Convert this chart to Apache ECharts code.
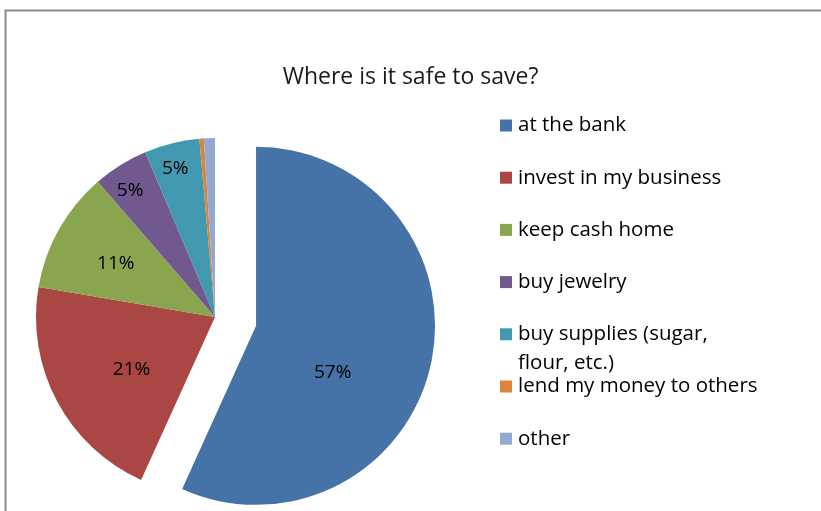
<!DOCTYPE html>
<html>
<head>
<meta charset="utf-8">
<script src="https://cdn.jsdelivr.net/npm/echarts@6/dist/echarts.min.js"></script>
<style>
  html, body { margin: 0; padding: 0; background: #fff; }
  #chart { width: 821px; height: 511px; }
</style>
</head>
<body>
<div id="chart"></div>
<script>
// Survey answers: where people feel it is safe to keep their savings
const categories = [
  'at the bank',
  'invest in my business',
  'keep cash home',
  'buy jewelry',
  'buy supplies (sugar, flour, etc.)',
  'lend my money to others',
  'other'
];
const shares = [57, 21, 11, 5, 5, 0.4, 1.0];          // percent of answers
const showPercent = [true, true, true, true, true, false, false];
const palette = ['#4572A7', '#AA4643', '#89A54E', '#71588F', '#4198AF', '#DB843D', '#93A9CF'];

const FONT = '"Open Sans", "Noto Sans", sans-serif';
const CX = 215, CY = 317, R = 179, EXPLODE = 42;

// where each percentage sits inside its slice: share of the radius, and turn off the bisector (deg)
const labelReach = [0.50, 0.55, 0.63, 0.85, 0.86];
const labelTurn = [19, -4, -1, -2, -1];

// legend column
const LEGEND_LEFT = 500, LEGEND_FIRST = 125.5, LEGEND_STEP = 52.2, LEGEND_LINE = 29, SWATCH = 12;

const chart = echarts.init(document.getElementById('chart'), null, { renderer: 'canvas' });

// slice bisectors (degrees clockwise from 12 o'clock), used to place the in-slice labels
const total = shares.reduce((a, b) => a + b, 0);
const mids = [];
let acc = 0;
shares.forEach(v => { mids.push((acc + v / 2) / total * 360); acc += v; });

const rad = d => d * Math.PI / 180;
function labelSpot(i) {
  let bx = CX, by = CY;
  if (i === 0) { // the pulled-out slice
    bx += EXPLODE * Math.sin(rad(mids[0]));
    by -= EXPLODE * Math.cos(rad(mids[0]));
  }
  const a = rad(mids[i] + labelTurn[i]);
  const d = labelReach[i] * R;
  return [bx + d * Math.sin(a), by - d * Math.cos(a)];
}

const legendLabel = name =>
  name === categories[4] ? '\nbuy supplies (sugar,\nflour, etc.)' : name;

const legends = categories.map((name, i) => {
  const lines = legendLabel(name).split('\n').length;
  return {
    data: [name],
    orient: 'vertical',
    left: LEGEND_LEFT,
    top: LEGEND_FIRST + i * LEGEND_STEP - lines * LEGEND_LINE / 2,
    padding: 0,
    icon: 'rect',
    itemWidth: SWATCH,
    itemHeight: SWATCH,
    selectedMode: false,
    formatter: legendLabel,
    textStyle: {
      fontFamily: FONT,
      fontSize: 20.5,
      color: '#000',
      lineHeight: LEGEND_LINE,
      padding: [0, 0, 0, 1]
    }
  };
});

chart.setOption({
  animation: false,
  color: palette,
  title: {
    text: 'Where is it safe to save?',
    left: 'center',
    top: 66,
    padding: [0, 0, 0, 4],
    textStyle: {
      fontFamily: FONT,
      fontSize: 23,
      fontWeight: 'normal',
      color: '#1a1a1a'
    }
  },
  legend: legends,
  graphic: [{
    // chart frame (top and left edges)
    type: 'polyline',
    silent: true,
    shape: { points: [[5.5, 520], [5.5, 10.5], [830, 10.5]] },
    style: { stroke: '#8a8a8a', lineWidth: 2, fill: null }
  }],
  series: [{
    // the pie itself, with "at the bank" pulled out
    type: 'pie',
    center: [CX, CY],
    radius: R,
    startAngle: 90,
    clockwise: true,
    selectedMode: 'single',
    selectedOffset: EXPLODE,
    emphasis: { disabled: true },
    itemStyle: { borderWidth: 0 },
    label: { show: false },
    labelLine: { show: false },
    data: categories.map((name, i) => ({
      name,
      value: shares[i],
      selected: i === 0
    }))
  }, {
    // percentage labels, laid over the same slices (the slices themselves are see-through)
    type: 'pie',
    silent: true,
    center: [CX, CY],
    radius: R,
    startAngle: 90,
    clockwise: true,
    avoidLabelOverlap: false,
    emphasis: { disabled: true },
    itemStyle: { color: 'rgba(0,0,0,0)', borderWidth: 0 },
    label: {
      show: true,
      position: 'inside',
      formatter: p => p.value + '%',
      fontFamily: FONT,
      fontSize: 19,
      color: '#000'
    },
    labelLine: { show: false },
    labelLayout: params => {
      if (!showPercent[params.dataIndex]) return;
      const [x, y] = labelSpot(params.dataIndex);
      return { x, y, align: 'center', verticalAlign: 'middle' };
    },
    data: categories.map((name, i) => ({
      name,
      value: shares[i],
      label: { show: showPercent[i] }
    }))
  }]
});
</script>
</body>
</html>
